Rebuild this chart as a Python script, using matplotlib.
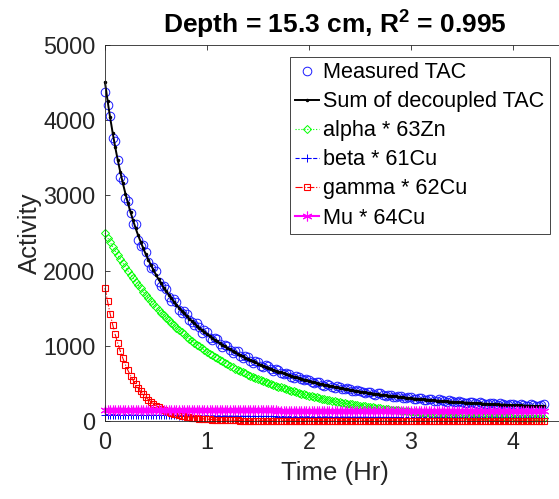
import matplotlib
matplotlib.use("Agg")
import matplotlib.pyplot as plt

plt.rcParams['font.family'] = ['Liberation Sans', 'DejaVu Sans']
plt.rcParams['mathtext.fontset'] = 'custom'
plt.rcParams['mathtext.rm'] = 'Liberation Sans'
plt.rcParams['mathtext.bf'] = 'Liberation Sans:bold'

time_hr = [0.000, 0.025, 0.050, 0.075, 0.100, 0.125, 0.150, 0.175, 0.200, 0.225,
           0.250, 0.275, 0.300, 0.325, 0.350, 0.375, 0.400, 0.425, 0.450, 0.475,
           0.500, 0.525, 0.550, 0.575, 0.600, 0.625, 0.650, 0.675, 0.700, 0.725,
           0.750, 0.775, 0.800, 0.825, 0.850, 0.875, 0.900, 0.925, 0.950, 0.975,
           1.000, 1.025, 1.050, 1.075, 1.100, 1.125, 1.150, 1.175, 1.200, 1.225,
           1.250, 1.275, 1.300, 1.325, 1.350, 1.375, 1.400, 1.425, 1.450, 1.475,
           1.500, 1.525, 1.550, 1.575, 1.600, 1.625, 1.650, 1.675, 1.700, 1.725,
           1.750, 1.775, 1.800, 1.825, 1.850, 1.875, 1.900, 1.925, 1.950, 1.975,
           2.000, 2.025, 2.050, 2.075, 2.100, 2.125, 2.150, 2.175, 2.200, 2.225,
           2.250, 2.275, 2.300, 2.325, 2.350, 2.375, 2.400, 2.425, 2.450, 2.475,
           2.500, 2.525, 2.550, 2.575, 2.600, 2.625, 2.650, 2.675, 2.700, 2.725,
           2.750, 2.775, 2.800, 2.825, 2.850, 2.875, 2.900, 2.925, 2.950, 2.975,
           3.000, 3.025, 3.050, 3.075, 3.100, 3.125, 3.150, 3.175, 3.200, 3.225,
           3.250, 3.275, 3.300, 3.325, 3.350, 3.375, 3.400, 3.425, 3.450, 3.475,
           3.500, 3.525, 3.550, 3.575, 3.600, 3.625, 3.650, 3.675, 3.700, 3.725,
           3.750, 3.775, 3.800, 3.825, 3.850, 3.875, 3.900, 3.925, 3.950, 3.975,
           4.000, 4.025, 4.050, 4.075, 4.100, 4.125, 4.150, 4.175, 4.200, 4.225,
           4.250, 4.275, 4.300]

measured_tac = [4380, 4200, 4060, 3760, 3730, 3470, 3240, 3200, 2960, 2930,
                2760, 2620, 2620, 2410, 2330, 2340, 2250, 2110, 2030, 2050,
                1990, 1850, 1790, 1800, 1760, 1650, 1600, 1620, 1580, 1470,
                1430, 1460, 1420, 1340, 1310, 1280, 1300, 1250, 1170, 1210,
                1190, 1110, 1080, 1100, 1090, 1020, 990, 1010, 1000, 940,
                900, 930, 925, 860, 840, 860, 850, 800, 770, 795,
                790, 735, 715, 740, 730, 685, 665, 690, 680, 635,
                620, 640, 630, 590, 575, 595, 590, 555, 540, 560,
                550, 515, 500, 520, 515, 482, 470, 490, 485, 455,
                440, 462, 455, 428, 420, 436, 428, 402, 395, 410,
                405, 380, 372, 388, 384, 360, 352, 370, 366, 342,
                335, 352, 348, 324, 322, 336, 330, 310, 305, 322,
                318, 296, 290, 306, 300, 284, 280, 296, 290, 270,
                268, 286, 278, 262, 258, 276, 266, 252, 250, 266,
                258, 244, 240, 258, 250, 236, 232, 250, 242, 228,
                226, 244, 236, 222, 218, 236, 230, 216, 212, 230,
                224, 210, 206, 226, 216, 204, 202, 220, 212, 200,
                200, 218, 222]

sum_tac = [4503, 4261, 4038, 3833, 3643, 3470, 3310, 3162, 3025, 2897,
           2779, 2668, 2565, 2468, 2380, 2296, 2217, 2144, 2073, 2008,
           1944, 1885, 1829, 1775, 1726, 1678, 1632, 1589, 1546, 1505,
           1468, 1431, 1396, 1362, 1330, 1299, 1267, 1237, 1210, 1182,
           1156, 1130, 1104, 1080, 1058, 1034, 1014, 993, 971, 951,
           931, 911, 894, 876, 858, 841, 826, 810, 792, 778,
           763, 748, 735, 721, 708, 696, 680, 668, 657, 645,
           633, 622, 610, 600, 589, 579, 569, 560, 551, 541,
           532, 524, 515, 506, 498, 490, 482, 475, 468, 461,
           453, 446, 440, 433, 426, 420, 415, 408, 402, 397,
           391, 385, 380, 375, 371, 365, 360, 356, 351, 346,
           342, 338, 334, 329, 326, 322, 318, 314, 310, 307,
           303, 299, 296, 293, 290, 286, 283, 280, 278, 274,
           272, 270, 266, 264, 261, 259, 256, 254, 251, 249,
           247, 245, 243, 240, 238, 236, 235, 233, 231, 229,
           227, 226, 224, 222, 220, 219, 218, 217, 213, 212,
           211, 210, 209, 207, 205, 204, 203, 202, 200, 199,
           198, 197, 196]

alpha_63zn = [2500, 2438, 2378, 2319, 2262, 2206, 2152, 2099, 2047, 1996,
              1947, 1899, 1852, 1806, 1762, 1718, 1676, 1635, 1594, 1555,
              1516, 1479, 1442, 1406, 1372, 1338, 1305, 1273, 1241, 1210,
              1181, 1152, 1123, 1095, 1069, 1043, 1016, 991, 967, 943,
              920, 897, 875, 853, 832, 811, 792, 772, 753, 734,
              716, 698, 681, 664, 648, 632, 617, 602, 586, 572,
              558, 544, 531, 518, 505, 493, 480, 468, 457, 446,
              434, 423, 413, 403, 393, 383, 374, 365, 356, 347,
              338, 330, 322, 314, 306, 298, 291, 284, 277, 270,
              264, 257, 251, 245, 238, 232, 227, 221, 216, 211,
              205, 200, 195, 190, 186, 181, 177, 173, 168, 164,
              160, 156, 152, 148, 145, 141, 138, 135, 131, 128,
              124, 121, 118, 115, 113, 110, 107, 104, 102, 99,
              97, 95, 92, 90, 88, 86, 83, 81, 79, 77,
              76, 74, 72, 70, 68, 66, 65, 63, 62, 60,
              59, 58, 56, 55, 53, 52, 51, 50, 48, 47,
              46, 45, 44, 43, 41, 40, 39, 38, 38, 37,
              36, 35, 34]

beta_61cu = [85.0, 84.6, 84.1, 83.7, 83.2, 82.8, 82.4, 81.9, 81.5, 81.1,
             80.7, 80.3, 79.8, 79.4, 79.0, 78.6, 78.2, 77.8, 77.4, 77.0,
             76.6, 76.2, 75.8, 75.4, 75.0, 74.6, 74.2, 73.9, 73.5, 73.1,
             72.7, 72.3, 71.9, 71.6, 71.2, 70.8, 70.5, 70.1, 69.7, 69.3,
             69.0, 68.6, 68.3, 67.9, 67.6, 67.2, 66.9, 66.5, 66.2, 65.8,
             65.5, 65.2, 64.8, 64.5, 64.2, 63.8, 63.5, 63.2, 62.8, 62.5,
             62.2, 61.8, 61.5, 61.2, 60.9, 60.6, 60.3, 59.9, 59.6, 59.3,
             59.0, 58.7, 58.4, 58.1, 57.8, 57.5, 57.2, 56.9, 56.6, 56.3,
             56.0, 55.7, 55.5, 55.2, 54.9, 54.6, 54.3, 54.0, 53.8, 53.5,
             53.2, 52.9, 52.7, 52.4, 52.1, 51.8, 51.6, 51.3, 51.0, 50.8,
             50.5, 50.2, 50.0, 49.7, 49.5, 49.2, 49.0, 48.7, 48.5, 48.2,
             48.0, 47.7, 47.5, 47.2, 47.0, 46.7, 46.5, 46.2, 46.0, 45.8,
             45.5, 45.3, 45.1, 44.8, 44.6, 44.4, 44.1, 43.9, 43.7, 43.4,
             43.2, 43.0, 42.8, 42.5, 42.3, 42.1, 41.9, 41.6, 41.4, 41.2,
             41.0, 40.8, 40.6, 40.4, 40.2, 39.9, 39.7, 39.5, 39.3, 39.1,
             38.9, 38.7, 38.5, 38.3, 38.1, 37.9, 37.7, 37.5, 37.3, 37.1,
             36.9, 36.7, 36.6, 36.4, 36.2, 36.0, 35.8, 35.6, 35.4, 35.2,
             35.1, 34.9, 34.7]

gamma_62cu = [1770, 1590, 1428, 1282, 1151, 1034, 929, 834, 749, 673,
              604, 542, 487, 437, 393, 353, 317, 285, 256, 230,
              206, 185, 166, 149, 134, 120, 108, 97, 87, 78,
              70, 63, 57, 51, 46, 41, 37, 33, 30, 27,
              24, 21, 19, 17, 16, 14, 13, 12, 10, 9,
              8, 7, 7, 6, 5, 4, 4, 4, 3, 3,
              3, 2, 2, 2, 2, 2, 1, 1, 1, 1,
              1, 1, 0, 0, 0, 0, 0, 0, 0, 0,
              0, 0, 0, 0, 0, 0, 0, 0, 0, 0,
              0, 0, 0, 0, 0, 0, 0, 0, 0, 0,
              0, 0, 0, 0, 0, 0, 0, 0, 0, 0,
              0, 0, 0, 0, 0, 0, 0, 0, 0, 0,
              0, 0, 0, 0, 0, 0, 0, 0, 0, 0,
              0, 0, 0, 0, 0, 0, 0, 0, 0, 0,
              0, 0, 0, 0, 0, 0, 0, 0, 0, 0,
              0, 0, 0, 0, 0, 0, 0, 0, 0, 0,
              0, 0, 0, 0, 0, 0, 0, 0, 0, 0,
              0, 0, 0]

mu_64cu = [148.0, 147.9, 147.7, 147.6, 147.5, 147.4, 147.2, 147.1, 147.0, 146.9,
           146.7, 146.6, 146.5, 146.4, 146.2, 146.1, 146.0, 145.9, 145.7, 145.6,
           145.5, 145.4, 145.2, 145.1, 145.0, 144.9, 144.7, 144.6, 144.5, 144.4,
           144.3, 144.1, 144.0, 143.9, 143.8, 143.6, 143.5, 143.4, 143.3, 143.1,
           143.0, 142.9, 142.8, 142.7, 142.5, 142.4, 142.3, 142.2, 142.0, 141.9,
           141.8, 141.7, 141.6, 141.4, 141.3, 141.2, 141.1, 141.0, 140.8, 140.7,
           140.6, 140.5, 140.4, 140.2, 140.1, 140.0, 139.9, 139.8, 139.6, 139.5,
           139.4, 139.3, 139.2, 139.1, 138.9, 138.8, 138.7, 138.6, 138.5, 138.3,
           138.2, 138.1, 138.0, 137.9, 137.8, 137.6, 137.5, 137.4, 137.3, 137.2,
           137.1, 136.9, 136.8, 136.7, 136.6, 136.5, 136.4, 136.3, 136.1, 136.0,
           135.9, 135.8, 135.7, 135.6, 135.5, 135.3, 135.2, 135.1, 135.0, 134.9,
           134.8, 134.7, 134.6, 134.4, 134.3, 134.2, 134.1, 134.0, 133.9, 133.8,
           133.7, 133.6, 133.4, 133.3, 133.2, 133.1, 133.0, 132.9, 132.8, 132.7,
           132.6, 132.5, 132.3, 132.2, 132.1, 132.0, 131.9, 131.8, 131.7, 131.6,
           131.5, 131.4, 131.3, 131.2, 131.1, 130.9, 130.8, 130.7, 130.6, 130.5,
           130.4, 130.3, 130.2, 130.1, 130.0, 129.9, 129.8, 129.7, 129.6, 129.5,
           129.4, 129.3, 129.2, 129.1, 128.9, 128.8, 128.7, 128.6, 128.5, 128.4,
           128.3, 128.2, 128.1]

x_ticks = [0, 1, 2, 3, 4]
y_ticks = [0, 1000, 2000, 3000, 4000, 5000]

axcol = '#262626'
W, H = 559, 499
fig = plt.figure(figsize=(W / 100, H / 100), dpi=100)
ax = fig.add_axes([105 / W, 78 / H, 459 / W, 376 / H])

asterisk = (6, 2, 0)
ax.plot(time_hr, measured_tac, linestyle='none', marker='o', ms=6.2, mew=0.7,
        mfc='none', mec=(0.1, 0.1, 1), label='Measured TAC', clip_on=False)
ax.plot(time_hr, sum_tac, '-', color='k', lw=1.4, marker='.', ms=3,
        label='Sum of decoupled TAC', clip_on=False)
ax.plot(time_hr, alpha_63zn, ':', color=(0, 1, 0), lw=0.8, marker='D', ms=4.0,
        mew=0.7, mfc='none', label='alpha * 63Zn', clip_on=False)
ax.plot(time_hr, beta_61cu, '--', color=(0, 0, 1), lw=0.8, marker='+', ms=5.5,
        mew=0.7, label='beta * 61Cu', clip_on=False)
ax.plot(time_hr, gamma_62cu, '-.', color=(1, 0, 0), lw=0.8, marker='s', ms=4.6,
        mew=0.8, mfc='none', label='gamma * 62Cu', clip_on=False)
ax.plot(time_hr, mu_64cu, '-', color=(1, 0, 1), lw=1.5, marker=asterisk, ms=7,
        mew=0.8, label='Mu * 64Cu', clip_on=False)

ax.set_xlim(0, 4.5)
ax.set_ylim(0, 5000)
ax.set_xticks(x_ticks)
ax.set_yticks(y_ticks)
ax.tick_params(direction='in', length=3.5, width=0.6, colors=axcol,
               labelsize=16.8, top=True, right=True, pad=7)
for s in ax.spines.values():
    s.set_color(axcol)
    s.set_linewidth(0.6)

ax.set_xlabel('Time (Hr)', fontsize=18.5, color=axcol, labelpad=5)
ax.set_ylabel('Activity', fontsize=18.5, color=axcol, labelpad=1)
ax.set_title(r'Depth = 15.3 cm, R$^{\mathbf{2}}$ = 0.995', fontsize=19,
             fontweight='bold', color='k', pad=9)

leg = ax.legend(loc='upper right', bbox_to_anchor=(550 / W, 1 - 57 / H),
                bbox_transform=fig.transFigure, borderaxespad=0,
                fontsize=15.6, frameon=True, fancybox=False, framealpha=1,
                edgecolor=axcol, handlelength=1.1, handletextpad=0.2,
                labelspacing=0.37, borderpad=0.25, numpoints=1)
leg.get_frame().set_linewidth(0.6)
for t in leg.get_texts():
    t.set_color('k')

fig.savefig('out.png', dpi=100)
